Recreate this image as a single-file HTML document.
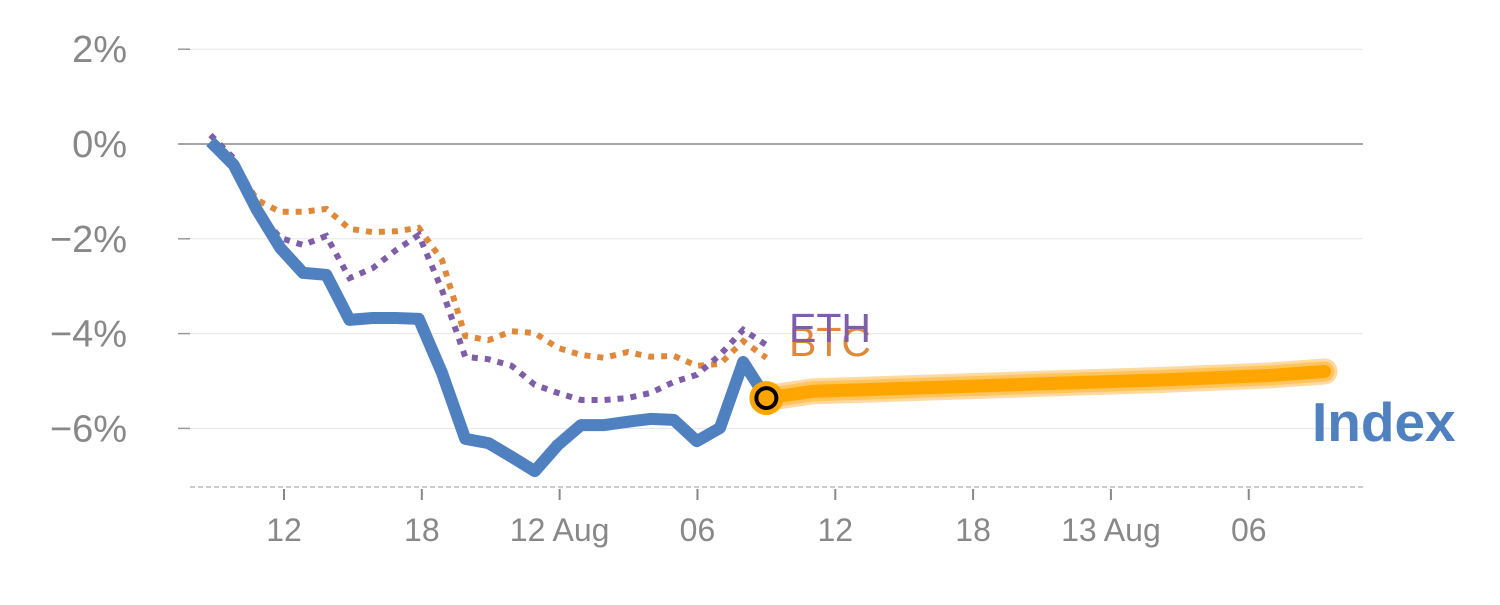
<!DOCTYPE html>
<html><head><meta charset="utf-8"><style>
html,body{margin:0;padding:0;background:#fff;}
svg text{font-family:"Liberation Sans",Arial,sans-serif;}
</style></head><body>
<svg id="chart" width="1500" height="600" xmlns="http://www.w3.org/2000/svg"></svg>
<script>
const hours = [8.8,9.81,10.82,11.83,12.83,13.84,14.85,15.86,16.87,17.87,18.88,19.89,20.9,21.91,22.92,23.92,24.93,25.94,26.95,27.96,28.97,29.97,30.98,31.99,33];
const indexVals = [0.05,-0.44,-1.39,-2.19,-2.72,-2.76,-3.71,-3.67,-3.67,-3.69,-4.83,-6.22,-6.31,-6.60,-6.90,-6.35,-5.93,-5.93,-5.86,-5.80,-5.82,-6.27,-5.99,-4.60,-5.36];
const btcVals = [0.05,-0.38,-1.18,-1.43,-1.43,-1.37,-1.79,-1.86,-1.84,-1.77,-2.45,-4.05,-4.14,-3.95,-3.99,-4.30,-4.45,-4.51,-4.39,-4.49,-4.47,-4.68,-4.64,-4.16,-4.51];
const ethVals = [0.19,-0.30,-1.39,-1.98,-2.13,-1.94,-2.83,-2.62,-2.24,-1.92,-3.08,-4.49,-4.54,-4.68,-5.08,-5.25,-5.40,-5.40,-5.36,-5.25,-5.02,-4.87,-4.45,-3.92,-4.24];
const fcHours = [33,35,40,45,50,55,57.3];
const fcVals = [-5.36,-5.22,-5.14,-5.06,-4.98,-4.88,-4.80];
const yTicks = [2,0,-2,-4,-6];
const yTickLabels = ["2%","0%","\u22122%","\u22124%","\u22126%"];
const xTicks = [12,18,24,30,36,42,48,54];
const xTickLabels = ["12","18","12 Aug","06","12","18","13 Aug","06"];

const NS="http://www.w3.org/2000/svg";
const svg=document.getElementById('chart');
const x=h=>284+(h-12)*22.97;
const y=v=>144-v*47.4;
function el(tag,attrs,parent){const e=document.createElementNS(NS,tag);for(const k in attrs)e.setAttribute(k,attrs[k]);(parent||svg).appendChild(e);return e;}

yTicks.forEach((t,i)=>{
  const g=el('line',{x1:178,x2:1363,y1:y(t),y2:y(t),stroke:t===0?'#888':'#e6e6e6','stroke-width':t===0?1.5:1});
  
  
  el('line',{x1:178,x2:190,y1:y(t),y2:y(t),stroke:'#999','stroke-width':1.5});
  const tx=el('text',{x:127,y:y(t)+13,'text-anchor':'end','font-size':38,fill:'#888'});
  tx.textContent=yTickLabels[i];
  
  
});
const ax=el('line',{x1:190,x2:1365,y1:487,y2:487,stroke:'#ccc','stroke-width':2,'stroke-dasharray':'5,3'});


xTicks.forEach((t,i)=>{
  el('line',{x1:x(t),x2:x(t),y1:489,y2:500,stroke:'#888','stroke-width':2});
  const tx=el('text',{x:x(t),y:541,'text-anchor':'middle','font-size':32,fill:'#888'});
  tx.textContent=xTickLabels[i];
  
  
});
function pts(hs,vs){return hs.map((h,i)=>x(h).toFixed(1)+','+y(vs[i]).toFixed(1)).join(' ');}
const fp=pts(fcHours,fcVals);
el('polyline',{points:fp,fill:'none',stroke:'#ffd9a0','stroke-width':26,'stroke-linecap':'round','stroke-linejoin':'round'});
el('polyline',{points:fp,fill:'none',stroke:'#ffc45c','stroke-width':20,'stroke-linecap':'round','stroke-linejoin':'round'});
const fl=el('polyline',{points:fp,fill:'none',stroke:'#ffa500','stroke-width':13,'stroke-linecap':'round','stroke-linejoin':'round'});


const bl=el('polyline',{points:pts(hours,btcVals),fill:'none',stroke:'#e0883a','stroke-width':6,'stroke-dasharray':'6,7'});


const el2=el('polyline',{points:pts(hours,ethVals),fill:'none',stroke:'#7e5ea8','stroke-width':6,'stroke-dasharray':'6,7'});


const il=el('polyline',{points:pts(hours,indexVals),fill:'none',stroke:'#4f80c0','stroke-width':12,'stroke-linejoin':'round'});


const lh=hours[hours.length-1], lv=indexVals[indexVals.length-1];
const c1=el('circle',{cx:x(lh),cy:y(lv),r:17,fill:'#ffa500'});


el('circle',{cx:x(lh),cy:y(lv),r:10,fill:'#ffa500',stroke:'#000','stroke-width':4});
const t1=el('text',{x:789,y:356,'font-size':41,fill:'#e0883a'});t1.textContent='BTC';


const t2=el('text',{x:789,y:342,'font-size':41,fill:'#7e5ea8'});t2.textContent='ETH';


const t3=el('text',{x:1312,y:441,'font-size':55,'font-weight':'bold',fill:'#4f80c0'});t3.textContent='Index';


</script>
</body></html>
